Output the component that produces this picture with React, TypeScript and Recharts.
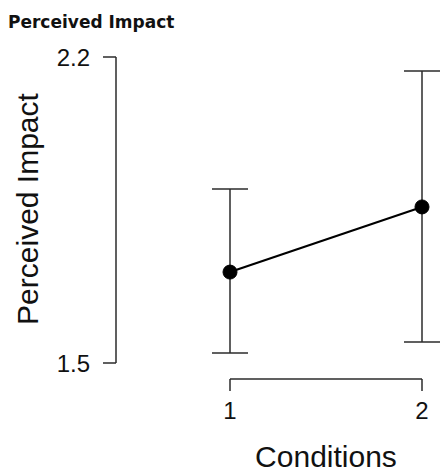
import { ErrorBar, Line, LineChart, ReferenceLine, XAxis, YAxis } from 'recharts';

// values
const conditions = [1, 2];
const means = [1.708, 1.857];
const errLow = [0.185, 0.309];
const errHigh = [0.19, 0.311];
const yTicks = [1.5, 2.2];

const data = conditions.map((c, i) => ({
  condition: c,
  mean: means[i],
  err: [errLow[i], errHigh[i]],
}));

const W = 440;
const H = 474;
const PAD_LEFT = 114;
const PAD_RIGHT = 18;
const PLOT_TOP = 57;
const PLOT_BOTTOM = 363;
const X_AXIS_H = 60;
const AXIS_GAP = 16; // R-style offset between plot and x bracket
const FONT = '"Liberation Sans", Arial, sans-serif';
const INK = '#2b2b2b';

const Y_MIN = yTicks[0];
const Y_MAX = yTicks[yTicks.length - 1];
const BRACKET_Y = Y_MIN - ((Y_MAX - Y_MIN) * AXIS_GAP) / (PLOT_BOTTOM - PLOT_TOP);

function XTick({ x, y, payload }: any) {
  return (
    <g>
      <line x1={x} x2={x} y1={y + AXIS_GAP} y2={y + AXIS_GAP + 12} stroke={INK} strokeWidth={1.5} />
      <text x={x} y={y + 56} textAnchor="middle" fontFamily={FONT} fontSize={24} fill="#111">
        {payload.value}
      </text>
    </g>
  );
}

function XLabel({ viewBox }: any) {
  const cx = viewBox.x + viewBox.width / 2 + (PAD_LEFT - PAD_RIGHT) / 2;
  return (
    <text x={cx} y={viewBox.y + 104} textAnchor="middle" fontFamily={FONT} fontSize={30} fill="#111">
      Conditions
    </text>
  );
}

function YLabel({ viewBox }: any) {
  const x = 38;
  const y = viewBox.y + viewBox.height / 2 - 1;
  return (
    <text
      x={x}
      y={y}
      transform={`rotate(-90 ${x} ${y})`}
      textAnchor="middle"
      fontFamily={FONT}
      fontSize={30}
      fill="#111"
    >
      Perceived Impact
    </text>
  );
}

export default function App() {
  return (
    <div style={{ position: 'absolute', left: 0, top: 0, width: W, height: H, background: '#fff' }}>
      <div
        style={{
          position: 'absolute',
          left: 8,
          top: 14,
          fontFamily: '"DejaVu Sans", sans-serif',
          fontWeight: 'bold',
          fontSize: 17,
          lineHeight: '17px',
          color: '#111',
        }}
      >
        Perceived Impact
      </div>
      <LineChart
        width={W}
        height={H}
        data={data}
        margin={{ top: PLOT_TOP, right: 0, bottom: H - PLOT_BOTTOM - X_AXIS_H, left: 0 }}
      >
        <XAxis
          dataKey="condition"
          type="number"
          domain={[1, 2]}
          ticks={conditions}
          padding={{ left: PAD_LEFT, right: PAD_RIGHT }}
          height={X_AXIS_H}
          axisLine={false}
          tickLine={false}
          tickSize={0}
          tickMargin={0}
          tick={<XTick />}
          label={<XLabel />}
        />
        <YAxis
          type="number"
          domain={[Y_MIN, Y_MAX]}
          ticks={yTicks}
          width={116}
          tickSize={13}
          tickMargin={13}
          axisLine={{ stroke: INK, strokeWidth: 1.5 }}
          tickLine={{ stroke: INK, strokeWidth: 1.5 }}
          tick={{ fontFamily: FONT, fontSize: 24, fill: '#111' }}
          label={<YLabel />}
        />
        <ReferenceLine
          segment={[
            { x: conditions[0], y: BRACKET_Y },
            { x: conditions[conditions.length - 1], y: BRACKET_Y },
          ]}
          ifOverflow="visible"
          stroke={INK}
          strokeWidth={1.5}
        />
        <Line
          dataKey="mean"
          stroke="#000"
          strokeWidth={2.2}
          dot={{ r: 7, fill: '#000', stroke: '#000', strokeWidth: 1 }}
          activeDot={false}
          isAnimationActive={false}
        >
          <ErrorBar dataKey="err" direction="y" width={18} stroke={INK} strokeWidth={1.5} />
        </Line>
      </LineChart>
    </div>
  );
}
